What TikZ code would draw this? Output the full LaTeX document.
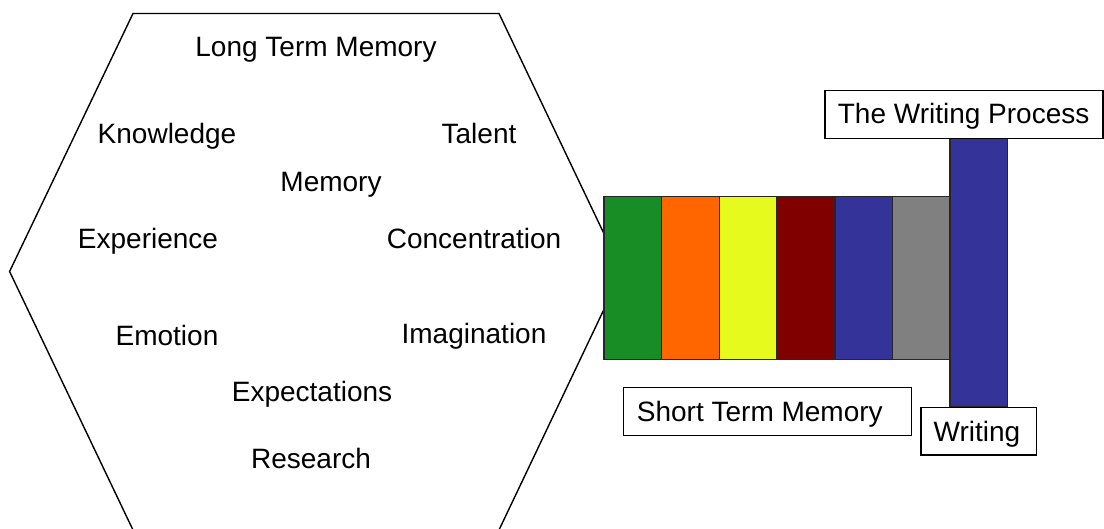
\documentclass[tikz,border=0pt]{standalone}
\usepackage{fontspec}
\setmainfont{Liberation Sans}
\definecolor{cgreen}{RGB}{24,140,37}
\definecolor{corange}{RGB}{255,102,0}
\definecolor{cyellow}{RGB}{230,250,30}
\definecolor{cdred}{RGB}{128,0,0}
\definecolor{cblue}{RGB}{51,51,153}
\definecolor{cgray}{RGB}{128,128,128}
\tikzset{
  lbl/.style={inner sep=0pt, font=\fontsize{28}{34}\selectfont},
  bar/.style={draw=black!85, line width=1.4pt, inner sep=0pt, minimum width=57.7pt, minimum height=162.6pt},
  boxed/.style={draw=black, line width=1.4pt, fill=white, inner sep=0pt},
}
\begin{document}
\begin{tikzpicture}[x=1pt,y=-1pt]
\useasboundingbox (0,0) rectangle (1104,529);
\clip (0,0) rectangle (1104,529);
% hexagon (long term memory)
\draw[line width=1.4pt, line join=miter]
  (133,13.5) -- (499,13.5) -- (622,271.5) -- (499,530) -- (133,530) -- (9.6,271.5) -- cycle;
\node[lbl] (ltm) at (316,50) {Long Term Memory};
\node[lbl] (know) at (167,136) {Knowledge};
\node[lbl] (tal) at (479,133) {Talent};
\node[lbl] (mem) at (331,184.5) {Memory};
\node[lbl] (exp) at (148,241) {Experience};
\node[lbl] (conc) at (474,238) {Concentration};
\node[lbl] (emo) at (167,335.5) {Emotion};
\node[lbl] (imag) at (474,336) {Imagination};
\node[lbl] (expc) at (312,394) {Expectations};
\node[lbl] (res) at (311,458.5) {Research};
% short term memory bars
\node[bar, fill=cgreen]  (b1) at (632.85,278) {};
\node[bar, fill=corange] (b2) at (690.55,278) {};
\node[bar, fill=cyellow] (b3) at (748.25,278) {};
\node[bar, fill=cdred]   (b4) at (805.95,278) {};
\node[bar, fill=cblue]   (b5) at (863.65,278) {};
\node[bar, fill=cgray]   (b6) at (921.35,278) {};
% writing column
\node[draw=black!85, line width=1.4pt, fill=cblue, inner sep=0pt, minimum width=57.7pt, minimum height=268.4pt] (wcol) at (978.85,272.5) {};
% boxes
\node[boxed, minimum width=278pt, minimum height=47.6pt] (wpbox) at (964,114.5) {};
\node[lbl] (wp) at (963.6,116.5) {The Writing Process};
\node[boxed, minimum width=288.4pt, minimum height=48pt] (stmbox) at (767.5,411.7) {};
\node[lbl, anchor=west] (stm) at (636.7,414.7) {Short Term Memory};
\node[boxed, minimum width=115.7pt, minimum height=47.7pt] (wbox) at (978.85,431.2) {};
\node[lbl] (wr) at (977,434) {Writing};
\end{tikzpicture}
\end{document}
